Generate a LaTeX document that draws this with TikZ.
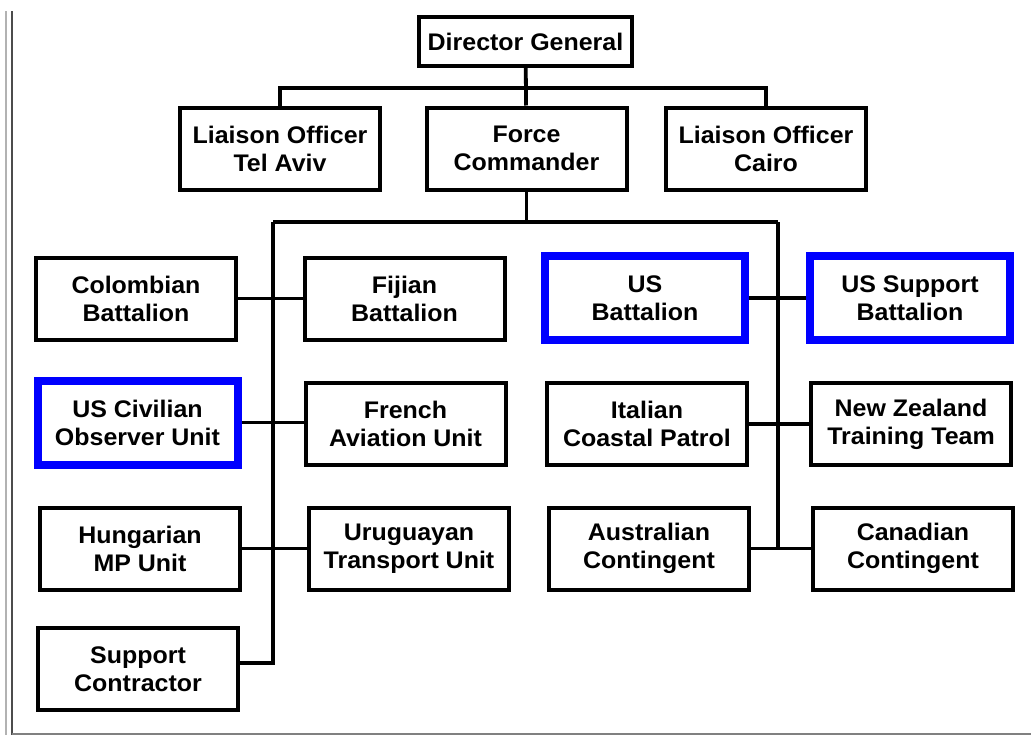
\documentclass[tikz,border=0pt]{standalone}
\usepackage{fontspec}
\setmainfont{Liberation Sans}[FakeStretch=1.04]
\usepackage{tikz}
\usetikzlibrary{positioning}

\begin{document}
\begin{tikzpicture}[x=1pt, y=-1pt,
    unit/.style={draw, line width=4pt, minimum width=200pt, minimum height=82pt, inner sep=2pt, align=center, font=\fontsize{24}{28}\selectfont\bfseries},
    usunit/.style={unit, draw=blue, line width=8pt, minimum height=84pt},
    link/.style={line width=3.8pt},
    edge/.style={line width=2pt}
]
    \useasboundingbox (0,0) rectangle (1031,736);

    % Page frame
    \draw[edge, draw=gray!60] (5.5,11) -- (5.5,735);
    \draw[edge, draw=black!70] (12,11) -- (12,735);
    \draw[edge, draw=gray, line width=2.5pt] (12,734) -- (1031,734);

    % Top
    \node[unit, minimum width=213pt, minimum height=49pt] (dg) at (525.5,41.5) {Director General};
    \node[unit] (lotel)   at (280,148.5) {Liaison Officer\\Tel Aviv};
    \node[unit] (fc)      at (526.5,148.5) {Force\\Commander};
    \node[unit] (locairo) at (766,148.5) {Liaison Officer\\Cairo};

    % Left column
    \node[unit]   (colomb) at (136,298.5) {Colombian\\Battalion};
    \node[unit]   (fiji)   at (404.5,298.5) {Fijian\\Battalion};
    \node[usunit] (usciv)  at (137.5,422.5) {US Civilian\\Observer Unit};
    \node[unit]   (french) at (405.5,424) {French\\Aviation Unit};
    \node[unit]   (hung)   at (140,548.5) {Hungarian\\MP Unit};
    \node[unit]   (urug)   at (409,548.5) {Uruguayan\\Transport Unit};
    \node[unit]   (supp)   at (138,669) {Support\\Contractor};

    % Right column
    \node[usunit] (usbn)  at (645,298) {US\\Battalion};
    \node[usunit] (ussup) at (910,298) {US Support\\Battalion};
    \node[unit]   (ital)  at (647,424) {Italian\\Coastal Patrol};
    \node[unit]   (nz)    at (911,424) {New Zealand\\Training Team};
    \node[unit]   (aus)   at (649,548.5) {Australian\\Contingent};
    \node[unit]   (can)   at (913,548.5) {Canadian\\Contingent};

    % Junctions
    \coordinate (topbar) at (525.5,88);
    \coordinate (fcbar)  at (523,222);
    \coordinate (ltop)   at (273,222);
    \coordinate (rtop)   at (778,222);
    \coordinate (lend)   at (273,663);
    \coordinate (rend)   at (778,547);

    % Lines
    \draw[link] (dg) -- (fc);
    \draw[link] (lotel.north) |- (topbar) -| (locairo.north);
    \draw[link] (fc.south) -- (fc.south |- fcbar);
    \draw[link] (ltop) -- (rtop);
    \draw[link] (ltop) -- (lend) -- (supp.east |- lend);
    \draw[link] (rtop) -- (rend);

    \draw[link] (colomb.east) -- (fiji.west);
    \draw[link] (usciv.east) -- (usciv.east -| french.west);
    \draw[link] (hung.east) -- (urug.west);
    \draw[link] (usbn.east) -- (ussup.west);
    \draw[link] (ital.east) -- (nz.west);
    \draw[link] (aus.east) -- (can.west);
\end{tikzpicture}
\end{document}
